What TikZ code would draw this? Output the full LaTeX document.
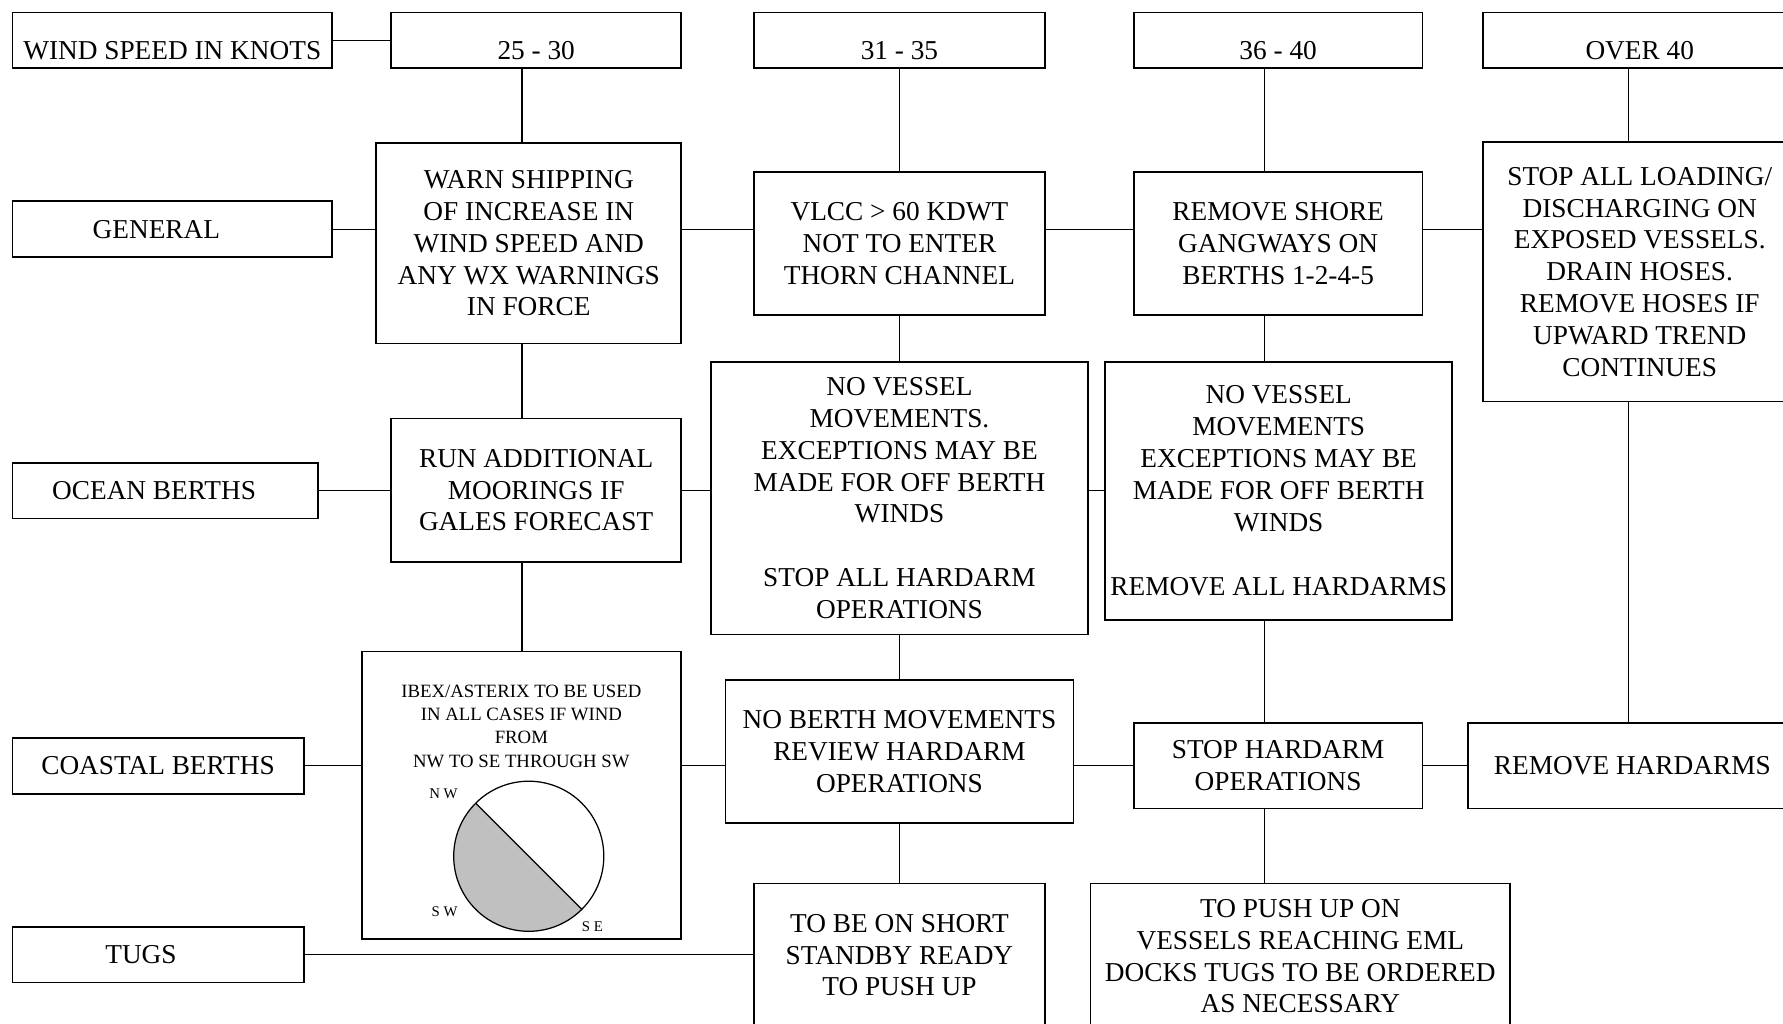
\documentclass[tikz,border=0pt]{standalone}
\usepackage{fontspec}
\setmainfont{Liberation Serif}
\usepackage{tikz}
\usetikzlibrary{calc}
\definecolor{sectorgrey}{RGB}{192,192,192}

\begin{document}
\begin{tikzpicture}[x=1pt, y=-1pt]
	\tikzstyle{cell} = [draw, line width=1.6pt, rectangle, inner sep=0pt, align=center, font={\fontsize{24}{28}\selectfont}];
	\tikzstyle{toprow} = [cell, minimum height=49, text height=34pt, text depth=0pt];
	\tikzstyle{link} = [black, line width=1.1pt];
	\tikzstyle{smalltext} = [align=center, inner sep=0pt, font={\fontsize{16.5}{20.5}\selectfont}];
	\tikzstyle{compass} = [inner sep=0pt, font={\fontsize{13}{15}\selectfont}];

	\clip (0,0) rectangle (1568,900);

	% wind speeds
	\node[toprow, minimum width=281](ws) at (151.5,35.5) {WIND SPEED IN KNOTS};
	\node[toprow, minimum width=255](k25) at (471.5,35.5) {25 - 30};
	\node[toprow, minimum width=256](k31) at (791,35.5) {31 - 35};
	\node[toprow, minimum width=254](k36) at (1124,35.5) {36 - 40};
	\node[toprow, minimum width=276](k40) at (1442,35.5) {OVER 40};

	% general
	\node[cell, minimum width=281, minimum height=49](gen) at (151.5,201.5) {GENERAL\hspace*{28pt}};
	\node[cell, minimum width=268, minimum height=176](warn) at (465,214) {WARN SHIPPING\\OF INCREASE IN\\WIND SPEED AND\\ANY WX WARNINGS\\IN FORCE};
	\node[cell, minimum width=256, minimum height=126](vlcc) at (791,214) {VLCC > 60 KDWT\\NOT TO ENTER\\THORN CHANNEL};
	\node[cell, minimum width=254, minimum height=126](shore) at (1124,214) {REMOVE SHORE\\GANGWAYS ON\\BERTHS 1-2-4-5};
	\node[cell, minimum width=276, minimum height=228](loading) at (1442,239) {STOP ALL LOADING/\\DISCHARGING ON\\EXPOSED VESSELS.\\DRAIN HOSES.\\REMOVE HOSES IF\\UPWARD TREND\\CONTINUES};

	% ocean berths
	\node[cell, minimum width=269, minimum height=49](ocean) at (145.5,431.5) {OCEAN BERTHS\hspace*{20pt}};
	\node[cell, minimum width=255, minimum height=126](run) at (471.5,431) {RUN ADDITIONAL\\MOORINGS IF\\GALES FORECAST};
	\node[cell, minimum width=332, minimum height=240](nv1) at (791,438) {NO VESSEL\\MOVEMENTS.\\EXCEPTIONS MAY BE\\MADE FOR OFF BERTH\\WINDS\\[28pt]STOP ALL HARDARM\\OPERATIONS};
	\node[cell, minimum width=305, minimum height=227](nv2) at (1124.5,431.5) {NO VESSEL\\MOVEMENTS\\EXCEPTIONS MAY BE\\MADE FOR OFF BERTH\\WINDS\\[28pt]REMOVE ALL HARDARMS};

	% coastal berths
	\node[cell, minimum width=256, minimum height=49](coast) at (139,673.5) {COASTAL BERTHS};
	\node[cell, minimum width=281, minimum height=253](ibex) at (458.5,699.5) {};
	\node[smalltext](ibextxt) at (458.5,638.5) {IBEX/ASTERIX TO BE USED\\IN ALL CASES IF WIND\\FROM\\NW TO SE THROUGH SW};
	\node[cell, minimum width=306, minimum height=126](nobm) at (791,661) {NO BERTH MOVEMENTS\\REVIEW HARDARM\\OPERATIONS};
	\node[cell, minimum width=254, minimum height=75](stoph) at (1124,673.5) {STOP HARDARM\\OPERATIONS};
	\node[cell, minimum width=289, minimum height=75](remh) at (1435.5,673.5) {REMOVE HARDARMS};

	% tugs
	\node[cell, minimum width=256, minimum height=49](tugs) at (139,839.5) {TUGS\hspace*{30pt}};
	\node[cell, minimum width=256, minimum height=126](standby) at (791,840) {TO BE ON SHORT\\STANDBY READY\\TO PUSH UP};
	\node[cell, minimum width=369, minimum height=128](pushup) at (1143.5,841) {TO PUSH UP ON\\VESSELS REACHING EML\\DOCKS TUGS TO BE ORDERED\\AS NECESSARY};

	% wind sector
	\coordinate (hub) at (465,753);
	\fill[sectorgrey] (hub) ++(-135:66) arc[start angle=-135, end angle=-315, radius=66] -- cycle;
	\draw[link] (hub) circle[radius=66];
	\draw[link] ($(hub)+(-135:66)$) -- ($(hub)+(45:66)$);
	\node[compass](nw) at (390,698) {N W};
	\node[compass](sw) at (391,802) {S W};
	\node[compass](se) at (521,815) {S E};

	\coordinate (c1) at (459,0);
	\coordinate (c3) at (1112,0);
	\coordinate (c4) at (1432,0);

	\path[link]
	(ws) edge (k25)
	(k25.south -| c1) edge (warn.north -| c1)
	(warn.south -| c1) edge (run.north -| c1)
	(run.south -| c1) edge (ibex.north -| c1)
	(k31) edge (vlcc)
	(vlcc) edge (nv1)
	(nv1) edge (nobm)
	(nobm) edge (standby)
	(k36.south -| c3) edge (shore.north -| c3)
	(shore.south -| c3) edge (nv2.north -| c3)
	(nv2.south -| c3) edge (stoph.north -| c3)
	(stoph.south -| c3) edge (pushup.north -| c3)
	(k40.south -| c4) edge (loading.north -| c4)
	(loading.south -| c4) edge (remh.north -| c4)
	(gen) edge (gen -| warn.west)
	(warn.east |- gen) edge (vlcc.west |- gen)
	(vlcc.east |- gen) edge (shore.west |- gen)
	(shore.east |- gen) edge (loading.west |- gen)
	(ocean) edge (ocean -| run.west)
	(run.east |- ocean) edge (nv1.west |- ocean)
	(nv1.east |- ocean) edge (nv2.west |- ocean)
	(coast) edge (coast -| ibex.west)
	(ibex.east |- coast) edge (nobm.west |- coast)
	(nobm.east |- coast) edge (stoph.west |- coast)
	(stoph) edge (remh)
	(tugs) edge (tugs -| standby.west);
\end{tikzpicture}
\end{document}
